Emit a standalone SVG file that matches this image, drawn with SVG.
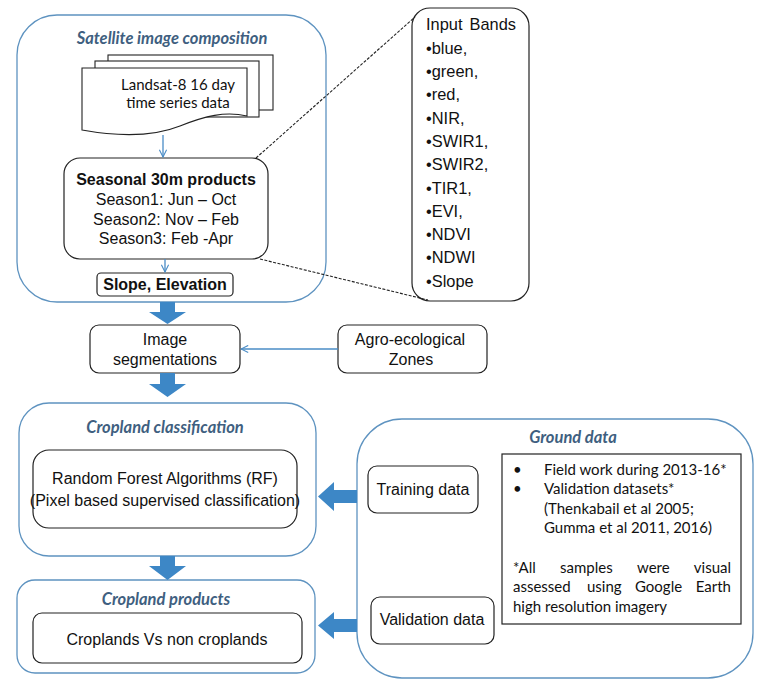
<svg xmlns="http://www.w3.org/2000/svg" width="763" height="689" viewBox="0 0 763 689">
<defs>
<style>
.grp{fill:#fff;stroke:#5e93c0;stroke-width:1.3}
.box{fill:#fff;stroke:#222;stroke-width:1.2}
.ttl{font-family:Lato,"Open Sans",sans-serif;font-style:italic;font-weight:bold;font-size:16.5px;fill:#3f5f80;text-anchor:middle}
.t{font-family:"Liberation Sans",Arial,sans-serif;font-size:16px;fill:#111;text-anchor:middle}
.tb{font-family:"Liberation Sans",Arial,sans-serif;font-size:16px;font-weight:bold;fill:#111;text-anchor:middle}
.tl{font-family:"Liberation Sans",Arial,sans-serif;font-size:16.4px;fill:#111}
.c{font-family:Lato,"Open Sans",sans-serif;font-size:15px;fill:#111}
.thin{fill:none;stroke:#4a8cc6;stroke-width:1.3}
.big{fill:#3d87c6}
.dash{fill:none;stroke:#222;stroke-width:1.1;stroke-dasharray:3 1.5}
</style>
<marker id="open" viewBox="0 0 10 10" refX="9" refY="5" markerWidth="9" markerHeight="9" orient="auto" markerUnits="userSpaceOnUse">
<path d="M1,1 L9,5 L1,9" fill="none" stroke="#4a8cc6" stroke-width="1.2"/>
</marker>
</defs>
<rect width="763" height="689" fill="#fff"/>

<g id="satellite-group">
<rect class="grp" x="17" y="15" width="309" height="287" rx="40"/>
<text class="ttl" x="172" y="44">Satellite image composition</text>
</g>

<g id="landsat">
<rect fill="#fff" stroke="#222" stroke-width="1.1" x="108" y="55" width="165" height="55"/>
<rect fill="#fff" stroke="#222" stroke-width="1.1" x="95" y="61" width="164" height="56"/>
<path fill="#fff" stroke="#222" stroke-width="1.1" d="M82,68 H247 V116 C225,111 205,116 180,126 C150,138 115,136 82,130 Z"/>
<text class="c" x="178" y="90" text-anchor="middle">Landsat-8 16 day</text>
<text class="c" x="178" y="108" text-anchor="middle">time series data</text>
</g>

<g id="seasonal">
<rect class="box" x="64" y="158" width="204" height="101" rx="16"/>
<text class="tb" x="166" y="185" font-size="16.3">Seasonal 30m products</text>
<text class="t" x="166" y="205" font-size="16.3">Season1: Jun – Oct</text>
<text class="t" x="166" y="225" font-size="16.3">Season2: Nov – Feb</text>
<text class="t" x="166" y="244" font-size="16.3">Season3: Feb -Apr</text>
</g>

<g id="slope">
<rect class="box" x="97" y="273" width="136" height="23" rx="4"/>
<text class="tb" x="165" y="290" font-size="14.7">Slope, Elevation</text>
</g>

<g id="input-bands">
<rect class="box" x="412" y="8" width="117" height="293" rx="18"/>
<text class="tl" x="426" y="30" font-size="16" word-spacing="2.5">Input Bands</text>
<text class="tl" x="426" y="54">•blue,</text>
<text class="tl" x="426" y="77">•green,</text>
<text class="tl" x="426" y="100">•red,</text>
<text class="tl" x="426" y="124">•NIR,</text>
<text class="tl" x="426" y="147">•SWIR1,</text>
<text class="tl" x="426" y="170">•SWIR2,</text>
<text class="tl" x="426" y="194">•TIR1,</text>
<text class="tl" x="426" y="217">•EVI,</text>
<text class="tl" x="426" y="240">•NDVI</text>
<text class="tl" x="426" y="263">•NDWI</text>
<text class="tl" x="426" y="287">•Slope</text>
</g>

<g id="image-seg">
<rect class="box" x="90" y="325" width="150" height="48" rx="9"/>
<text class="t" x="165" y="345" font-size="15.7">Image</text>
<text class="t" x="165" y="365" font-size="15.7">segmentations</text>
</g>

<g id="agro">
<rect class="box" x="338" y="325" width="149" height="48" rx="9"/>
<text class="t" x="410" y="345" font-size="16.4">Agro-ecological</text>
<text class="t" x="411" y="365" font-size="16">Zones</text>
</g>

<g id="classification-group">
<rect class="grp" x="19" y="403" width="297" height="153" rx="30"/>
<text class="ttl" x="165" y="433">Cropland classification</text>
</g>
<g id="rf">
<rect class="box" x="33" y="450" width="264" height="78" rx="16"/>
<text class="t" x="165" y="484" font-size="16.5">Random Forest Algorithms (RF)</text>
<text class="t" x="165" y="506" font-size="13.8">(Pixel based supervised classification)</text>
</g>

<g id="products-group">
<rect class="grp" x="17" y="580" width="298" height="93" rx="18"/>
<text class="ttl" x="166" y="605">Cropland products</text>
</g>
<g id="croplands">
<rect class="box" x="33" y="613" width="269" height="50" rx="9"/>
<text class="t" x="167" y="645" font-size="16.3">Croplands Vs non croplands</text>
</g>

<g id="ground-group">
<rect class="grp" x="357" y="419" width="396" height="259" rx="45"/>
<text class="ttl" x="573" y="443">Ground data</text>
</g>
<g id="training">
<rect class="box" x="368" y="466" width="110" height="47" rx="9"/>
<text class="t" x="423" y="495">Training data</text>
</g>
<g id="validation">
<rect class="box" x="371" y="597" width="123" height="47" rx="9"/>
<text class="t" x="432" y="625">Validation data</text>
</g>
<g id="ground-notes">
<rect fill="#fff" stroke="#222" stroke-width="1.2" x="502" y="454" width="239" height="170"/>
<text class="c" x="513" y="475">•</text>
<text class="c" x="544" y="475">Field work during 2013-16*</text>
<text class="c" x="513" y="494">•</text>
<text class="c" x="544" y="494">Validation datasets*</text>
<text class="c" x="544" y="514">(Thenkabail et al 2005;</text>
<text class="c" x="544" y="533">Gumma et al 2011, 2016)</text>
<text class="c" x="513" y="573">*All</text>
<text class="c" x="560" y="573">samples</text>
<text class="c" x="637" y="573">were</text>
<text class="c" x="731" y="573" text-anchor="end">visual</text>
<text class="c" x="513" y="592">assessed</text>
<text class="c" x="587" y="592">using</text>
<text class="c" x="635" y="592">Google</text>
<text class="c" x="731" y="592" text-anchor="end">Earth</text>
<text class="c" x="513" y="612">high resolution imagery</text>
</g>

<g id="connectors">
<line class="thin" x1="163" y1="135" x2="163" y2="157" marker-end="url(#open)"/>
<line class="thin" x1="165" y1="259" x2="165" y2="272" marker-end="url(#open)"/>
<line class="thin" x1="338" y1="349" x2="241" y2="349" marker-end="url(#open)"/>
<line class="dash" x1="256" y1="158" x2="415" y2="17"/>
<line class="dash" x1="260" y1="259" x2="428" y2="300"/>
<path class="big" d="M160,302 H175 V312 H186 L167.5,324 L149,312 H160 Z"/>
<path class="big" d="M160,373 H175 V384 H186 L167.5,397 L149,384 H160 Z"/>
<path class="big" d="M160,556 H175 V566 H186 L167.5,580 L149,566 H160 Z"/>
<path class="big" d="M357,490 V503 H334 V511 L318,496.5 L334,482 V490 Z"/>
<path class="big" d="M357,619 V632 H334 V639 L318,625.5 L334,612 V619 Z"/>
</g>
</svg>
